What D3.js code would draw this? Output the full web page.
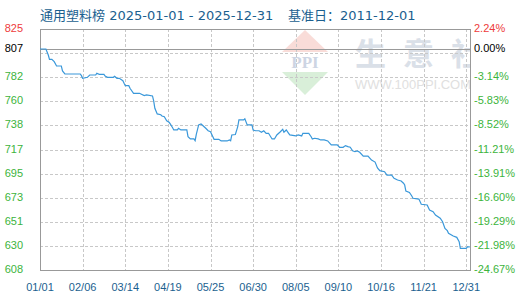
<!DOCTYPE html>
<html><head><meta charset="utf-8">
<script src="https://cdn.jsdelivr.net/npm/d3@7/dist/d3.min.js"></script>
<style>
html,body{margin:0;padding:0;background:#fff;}
svg{display:block;}
</style></head>
<body><svg id="c" width="520" height="300"></svg>
<script>
const title1 = "通用塑料榜 2025-01-01 - 2025-12-31";
const title2 = "基准日：2011-12-01";
const baseValue = 807;
const baseLabel = "807";
const basePct = "0.00%";
const yMin = 608, yMax = 825;
const leftLabels = ["608","630","651","673","695","717","738","760","782","","825"];
const rightLabels = ["-24.67%","-21.98%","-19.29%","-16.60%","-13.91%","-11.21%","-8.52%","-5.83%","-3.14%","","2.24%"];
const xTickDates = ["2025-01-01","2025-02-06","2025-03-14","2025-04-19","2025-05-25","2025-06-30","2025-08-05","2025-09-10","2025-10-16","2025-11-21","2025-12-27"];
const xTickLabels = ["01/01","02/06","03/14","04/19","05/25","06/30","08/05","09/10","10/16","11/21","12/31"];
const dates = ["01-01","01-06","01-08","01-09","01-11","01-13","01-15","01-19","01-20","01-22",
"02-04","02-05","02-06","02-10","02-12","02-17","02-18","02-20","02-24","02-25","02-27",
"03-04","03-05","03-07","03-09","03-12","03-13","03-14","03-17","03-18","03-21","03-26","03-30",
"04-01","04-06","04-07","04-08","04-10","04-13","04-14","04-16","04-18","04-20","04-21","04-23","04-24","04-27","04-28","04-30",
"05-05","05-06","05-08","05-11","05-12","05-13","05-15","05-17","05-18","05-21","05-23","05-25","05-27","05-28",
"06-01","06-03","06-08","06-10","06-11","06-12","06-15","06-17","06-18","06-22","06-23","06-25","06-29","06-30",
"07-02","07-05","07-07","07-09","07-11","07-13","07-16","07-18","07-20","07-23","07-25","07-26","07-28","07-30","07-31",
"08-05","08-07","08-10","08-11","08-16","08-18","08-19","08-21","08-24","08-26","08-29",
"09-01","09-04","09-09","09-11","09-14","09-16","09-18","09-20","09-22","09-24","09-26","09-28",
"10-01","10-05","10-08","10-11","10-13","10-15","10-19","10-21","10-25","10-27","10-30",
"11-02","11-04","11-05","11-06","11-09","11-11","11-12","11-17","11-19","11-24","11-26","11-29",
"12-01","12-05","12-07","12-09","12-11","12-12","12-16","12-19","12-21","12-22","12-27","12-28","12-30"];
const values = [807,807,801.6,797.7,797.7,795.6,791.7,791.7,787.2,784.5,
784.5,783.0,780.6,781.5,783.6,783.6,785.1,784.2,784.2,782.7,781.5,
781.5,782.4,780.6,780.6,778.5,776.1,774.0,774.0,771.6,767.1,767.1,765.0,
765.6,764.7,760.2,753.6,748.5,747.8,746.7,746.0,742.4,741.0,739.5,736.1,734.1,734.1,735.6,734.1,
734.1,728.0,726.0,726.0,724.4,730.2,738.6,739.5,738.6,735.6,733.4,732.5,728.0,725.7,
725.7,724.2,724.2,725.1,724.4,729.6,730.0,737.0,743.1,743.1,744.2,738.6,738.6,
734.1,733.4,733.4,732.0,733.4,731.1,731.1,726.0,726.0,729.6,732.5,734.7,732.0,734.1,731.1,729.6,
728.7,729.6,728.7,731.1,731.1,728.0,726.0,726.6,726.0,725.1,725.1,
724.2,720.6,720.6,718.5,718.5,720.0,719.1,718.5,715.4,714.5,715.2,714.0,
710.6,710.6,707.0,705.2,699.9,697.4,696.5,693.5,693.5,690.6,689.0,
688.1,686.1,684.5,679.1,677.8,674.6,672.6,671.9,667.2,666.5,662.0,660.5,
657.5,654.6,651.5,645.5,643.4,641.0,638.6,637.4,633.5,627.5,627.5,628.9,628.9];

const svg = d3.select("#c");
const L = 40, R = 471, T = 29, B = 270;
const parse = d3.timeParse("%Y-%m-%d");
const x = d3.scaleTime().domain([parse("2025-01-01"), parse("2025-12-31")]).range([L, R]);
const y = d3.scaleLinear().domain([yMin, yMax]).range([B, T]);
const yTicks = d3.range(11).map(i => yMin + (yMax - yMin) * i / 10);

// watermark
const defs = svg.append("defs");
defs.append("clipPath").attr("id","plotclip").append("rect").attr("x",L).attr("y",T).attr("width",R-L).attr("height",B-T);
const wm = svg.append("g").attr("clip-path","url(#plotclip)");
wm.append("path").attr("d","M305,30 L328,52 L282,52 Z").attr("fill","#f9dcd8");
wm.append("text").attr("x",305).attr("y",68).attr("text-anchor","middle").attr("font-family","Liberation Serif, serif").attr("font-weight","bold").attr("font-size",17).attr("fill","#cdd5e3").text("PPI");
wm.append("path").attr("d","M282,72 L328,72 L305,95 Z").attr("fill","#d9efd9");
wm.append("text").attr("x",355).attr("y",65).attr("font-family","Noto Sans CJK SC").attr("font-weight","bold").attr("font-size",31).attr("letter-spacing",17).attr("fill","#dae0e8").text("生意社");
wm.append("text").attr("x",355).attr("y",89).attr("font-family","Liberation Sans, Arial").attr("font-size",12).attr("textLength",116).attr("lengthAdjust","spacingAndGlyphs").attr("fill","#e0e0e0").text("WWW.100PPI.COM");

// grid
const grid = svg.append("g");
grid.selectAll("line.h").data(yTicks.slice(1,10)).join("line")
  .attr("x1",L).attr("x2",R).attr("y1",d=>Math.round(y(d))+0.5).attr("y2",d=>Math.round(y(d))+0.5)
  .attr("stroke","#c8c8c8").attr("stroke-dasharray","3,2");
grid.selectAll("line.v").data(xTickDates.slice(1)).join("line")
  .attr("x1",d=>Math.round(x(parse(d)))+0.5).attr("x2",d=>Math.round(x(parse(d)))+0.5).attr("y1",T).attr("y2",B)
  .attr("stroke","#c8c8c8").attr("stroke-dasharray","3,2");

// base line
svg.append("line").attr("x1",L).attr("x2",R).attr("y1",Math.round(y(baseValue))+0.5).attr("y2",Math.round(y(baseValue))+0.5).attr("stroke","#999");

// frame
svg.append("rect").attr("x",L+0.5).attr("y",T+0.5).attr("width",R-L-1).attr("height",B-T).attr("fill","none").attr("stroke","#999");

// line
const pts = dates.map((d,i)=>({d:parse("2025-"+d), v:values[i]}));
svg.append("path").datum(pts)
  .attr("d", d3.line().x(p=>x(p.d)).y(p=>y(p.v)))
  .attr("fill","none").attr("stroke","#3a98da").attr("stroke-width",1.2);

// left labels
const font = "Liberation Sans, Arial, sans-serif";
const green = "#3cb43c", red = "#ee3b3b";
const yl = yTicks.map((v,i)=>({v, i})).filter(o => leftLabels[o.i] !== "");
svg.append("g").selectAll("text").data(yl).join("text")
  .attr("x",23).attr("y",o=>y(o.v)+3).attr("text-anchor","end")
  .attr("font-family",font).attr("font-size",11)
  .attr("fill",o=> o.i===10 ? red : green)
  .text(o=>leftLabels[o.i]);
svg.append("text").attr("x",23).attr("y",y(baseValue)+3).attr("text-anchor","end").attr("font-family",font).attr("font-size",11).attr("fill","#000").text(baseLabel);

// right labels
const yr = yTicks.map((v,i)=>({v, i})).filter(o => rightLabels[o.i] !== "");
svg.append("g").selectAll("text").data(yr).join("text")
  .attr("x",474).attr("y",o=>y(o.v)+3).attr("text-anchor","start")
  .attr("font-family",font).attr("font-size",11)
  .attr("fill",o=> o.i===10 ? red : green)
  .text(o=>rightLabels[o.i]);
svg.append("text").attr("x",474).attr("y",y(baseValue)+3).attr("font-family",font).attr("font-size",11).attr("fill","#000").text(basePct);

// x labels
svg.append("g").selectAll("text").data(xTickDates).join("text")
  .attr("x",d=>x(parse(d))).attr("y",291).attr("text-anchor","middle")
  .attr("font-family",font).attr("font-size",11).attr("fill","#1b5f8f")
  .text((d,i)=>xTickLabels[i]);

// title
const tfont = "DejaVu Sans, Noto Sans CJK SC, sans-serif";
svg.append("text").attr("x",40).attr("y",20).attr("font-family",tfont).attr("font-size",13).attr("fill","#1b5f8f").text(title1);
svg.append("text").attr("x",288).attr("y",20).attr("font-family",tfont).attr("font-size",13).attr("fill","#1b5f8f").text(title2);
</script></body></html>
